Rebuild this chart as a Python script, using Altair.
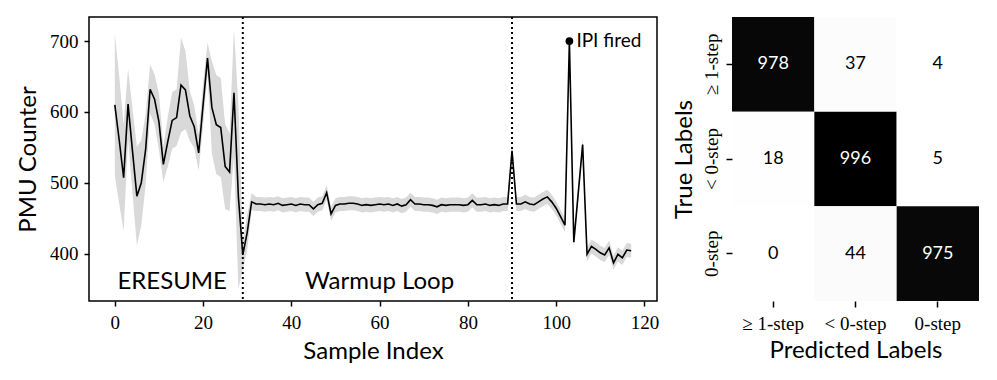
import altair as alt
import pandas as pd

# ---------------- data ----------------
sample_index = list(range(118))
pmu_mean = [
    610, 560, 507, 611, 545, 481, 500, 548, 632, 618,
    586, 526, 558, 588, 592, 638, 631, 594, 579, 542,
    610, 676, 606, 582, 578, 523, 515, 627, 480, 398,
    430, 473, 470, 470, 469, 470, 469, 471, 468, 469,
    470, 468, 470, 469, 469, 463, 469, 471, 486, 456,
    468, 470, 470, 471, 471, 470, 468, 469, 468, 469,
    470, 469, 470, 468, 470, 467, 469, 476, 470, 470,
    469, 469, 468, 466, 469, 468, 469, 469, 469, 468,
    469, 475, 469, 469, 470, 468, 469, 468, 470, 470,
    545, 470, 470, 473, 470, 469, 473, 477, 480, 473,
    464, 452, 440, 700, 416, 485, 554, 399, 410, 406,
    401, 398, 408, 387, 399, 394, 405, 404,
]
pmu_spread = [
    100, 90, 75, 50, 60, 70, 60, 50, 35, 35,
    40, 25, 35, 40, 40, 67, 55, 35, 30, 25,
    30, 22, 65, 70, 70, 60, 55, 90, 130, 20,
    25, 12, 10, 10, 10, 10, 10, 10, 10, 10,
    10, 10, 10, 10, 10, 10, 10, 10, 10, 10,
    10, 10, 10, 10, 10, 10, 10, 10, 10, 10,
    10, 10, 10, 10, 10, 10, 10, 10, 10, 10,
    10, 10, 10, 10, 10, 10, 10, 10, 10, 10,
    10, 10, 10, 10, 10, 10, 10, 10, 10, 10,
    10, 10, 10, 10, 10, 10, 10, 10, 10, 10,
    10, 10, 10, 4, 8, 10, 10, 10, 10, 10,
    10, 10, 10, 10, 10, 10, 10, 10,
]
phase_names = ["ERESUME", "Warmup Loop"]
phase_centers = [13, 60]
phase_label_y = [360, 360]
phase_boundaries = [29, 90]
ipi_index = [103]
ipi_value = [700]
ipi_label = ["IPI fired"]

class_labels = ["≥ 1-step", "< 0-step", "0-step"]
confusion = [
    [978, 37, 4],
    [18, 996, 5],
    [0, 44, 975],
]

SANS = "Lato"
SERIF = "Liberation Serif"

# ---------------- left panel ----------------
df = pd.DataFrame({
    "idx": sample_index,
    "mean": pmu_mean,
    "lo": [m - s for m, s in zip(pmu_mean, pmu_spread)],
    "hi": [m + s for m, s in zip(pmu_mean, pmu_spread)],
})

xscale = alt.Scale(domain=[-5.85, 122.85], nice=False, zero=False)
yscale = alt.Scale(domain=[333, 734], nice=False, zero=False)

xaxis = alt.Axis(
    title="Sample Index", values=[0, 20, 40, 60, 80, 100, 120], format="d",
    labelFont=SERIF, labelFontSize=19, labelColor="black", labelPadding=7,
    titleFont=SANS, titleFontSize=24, titleFontWeight="normal", titleColor="black",
    titlePadding=7, tickSize=5, tickWidth=1.5, tickColor="black",
    domain=False, grid=False,
)
yaxis = alt.Axis(
    title="PMU Counter", values=[400, 500, 600, 700], format="d",
    labelFont=SERIF, labelFontSize=19, labelColor="black", labelPadding=6,
    titleFont=SANS, titleFontSize=24, titleFontWeight="normal", titleColor="black",
    titlePadding=9, tickSize=5, tickWidth=1.5, tickColor="black",
    domain=False, grid=False,
)

base = alt.Chart(df)
band = base.mark_area(color="#d9d9d9", opacity=1).encode(
    x=alt.X("idx:Q", scale=xscale, axis=xaxis),
    y=alt.Y("lo:Q", scale=yscale, axis=yaxis),
    y2="hi:Q",
)
line = base.mark_line(color="black", strokeWidth=1.6).encode(
    x=alt.X("idx:Q", scale=xscale),
    y=alt.Y("mean:Q", scale=yscale),
)
rules = alt.Chart(pd.DataFrame({"b": phase_boundaries})).mark_rule(
    color="black", strokeWidth=2, strokeDash=[2, 3]
).encode(x=alt.X("b:Q", scale=xscale))

phase_text = alt.Chart(pd.DataFrame({
    "name": phase_names, "x": phase_centers, "y": phase_label_y
})).mark_text(font=SANS, fontSize=24, color="black", align="center", baseline="middle").encode(
    x=alt.X("x:Q", scale=xscale), y=alt.Y("y:Q", scale=yscale), text="name:N"
)
ipi_df = pd.DataFrame({"x": ipi_index, "y": ipi_value, "t": ipi_label})
ipi_dot = alt.Chart(ipi_df).mark_point(filled=True, color="black", size=60, opacity=1).encode(
    x=alt.X("x:Q", scale=xscale), y=alt.Y("y:Q", scale=yscale)
)
ipi_text = alt.Chart(ipi_df).mark_text(
    font=SANS, fontSize=19, color="black", align="left", baseline="middle", dx=7
).encode(x=alt.X("x:Q", scale=xscale), y=alt.Y("y:Q", scale=yscale), text="t:N")

left = alt.layer(band, line, rules, phase_text, ipi_dot, ipi_text).properties(
    width=568, height=284,
    view=alt.ViewBackground(stroke="black", strokeWidth=1.5),
)

# ---------------- right panel ----------------
rows = []
for ti, tl in enumerate(class_labels):
    for pi, pl in enumerate(class_labels):
        rows.append({"true": tl, "pred": pl, "v": confusion[ti][pi]})
cm = pd.DataFrame(rows)

hx = alt.X("pred:N", sort=class_labels, scale=alt.Scale(paddingInner=0, paddingOuter=0),
           axis=alt.Axis(title="Predicted Labels", labelAngle=0, labelFont=SERIF, labelFontSize=19,
                         labelColor="black", labelPadding=7, titleFont=SANS, titleFontSize=24,
                         titleFontWeight="normal", titleColor="black", titlePadding=5,
                         tickSize=6, tickWidth=1.5, tickColor="black", domain=False))
hy = alt.Y("true:N", sort=class_labels, scale=alt.Scale(paddingInner=0, paddingOuter=0),
           axis=alt.Axis(title="True Labels", labelAngle=270, labelAlign="center",
                         labelBaseline="bottom", labelFont=SERIF, labelFontSize=19,
                         labelColor="black", labelPadding=5, titleFont=SANS, titleFontSize=24,
                         titleFontWeight="normal", titleColor="black", titlePadding=6,
                         tickSize=6, tickWidth=1.5, tickColor="black", domain=False))

rects = alt.Chart(cm).mark_rect().encode(
    x=hx, y=hy,
    color=alt.Color("v:Q", scale=alt.Scale(domain=[0, 100, 996],
                                           range=["#ffffff", "#f7f7f7", "#000000"]),
                    legend=None),
)
nums = alt.Chart(cm).mark_text(font=SANS, fontSize=18).encode(
    x=alt.X("pred:N", sort=class_labels),
    y=alt.Y("true:N", sort=class_labels),
    text="v:Q",
    color=alt.condition(alt.datum.v > 500, alt.value("white"), alt.value("black")),
)
right = alt.layer(rects, nums).properties(width=247, height=284)

chart = alt.hconcat(left, right, spacing=12).properties(
    padding={"left": 7, "top": 7, "right": 5, "bottom": 5}
).configure_view(stroke=None)

chart.save("out.html", embed_options={"renderer": "svg", "actions": False})
